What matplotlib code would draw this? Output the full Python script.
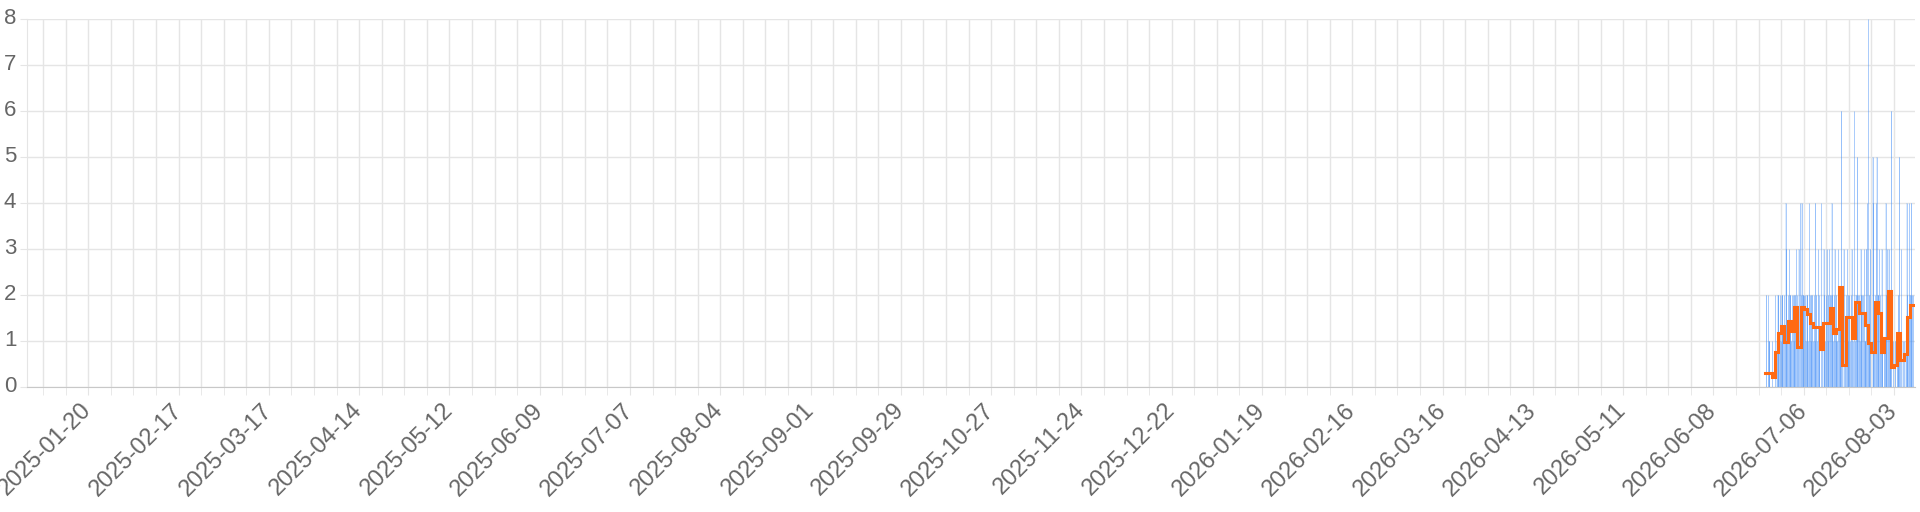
import datetime as dt
import matplotlib
matplotlib.use("Agg")
import matplotlib.pyplot as plt
import matplotlib.dates as mdates
from matplotlib.transforms import ScaledTranslation

# ---------------- data ----------------
series_start = dt.datetime(2026, 6, 24)
slots_per_day = 4  # bar values are given as 4 slots per day

bar_values = [
    0, 2, 0, 2,   1, 1, 0, 0,   1, 0, 0, 0,   2, 0, 1, 2,
    2, 1, 2, 1,   2, 2, 1, 2,   1, 4, 3, 1,   2, 3, 2, 2,
    1, 2, 2, 1,   2, 2, 3, 2,   1, 3, 0, 4,   2, 4, 2, 2,
    2, 2, 1, 2,   2, 1, 4, 2,   1, 2, 2, 1,   2, 1, 4, 2,
    1, 3, 2, 1,   0, 4, 1, 0,   3, 2, 1, 2,   3, 1, 2, 3,
    2, 2, 4, 2,   1, 2, 3, 1,   2, 1, 3, 2,   2, 2, 6, 2,
    0, 3, 0, 1,   2, 3, 1, 2,   2, 1, 2, 3,   1, 0, 6, 1,
    2, 2, 5, 2,   2, 1, 3, 2,   2, 2, 3, 1,   1, 3, 4, 8,
    1, 2, 3, 0,   0, 5, 4, 1,   2, 4, 5, 2,   2, 3, 2, 1,
    3, 1, 0, 1,   1, 4, 2, 3,   2, 3, 2, 2,   6, 0, 1, 0,
    0, 1, 0, 1,   1, 2, 5, 1,   3, 0, 1, 0,   1, 0, 1, 4,
    2, 1, 4, 2,   2, 4, 2, 2,
]

avg_values = [
    0.30, 0.30, 0.22, 0.76, 1.16, 1.32, 0.98, 1.43, 1.20, 1.74,
    0.86, 1.74, 1.68, 1.59, 1.39, 1.30, 1.30, 0.81, 1.38, 1.38,
    1.70, 1.17, 1.25, 2.16, 0.47, 1.52, 1.52, 1.05, 1.85, 1.60,
    1.60, 1.34, 0.94, 0.76, 1.85, 1.60, 0.76, 1.05, 2.09, 0.43,
    0.47, 1.17, 0.58, 0.72, 1.52, 1.78,
]

x_min = dt.datetime(2025, 1, 1)
x_max = dt.datetime(2026, 8, 9, 12)
first_grid_week = dt.datetime(2025, 1, 6)
first_label = dt.datetime(2025, 1, 20)
last_label = dt.datetime(2026, 8, 3)
y_ticks = [0, 1, 2, 3, 4, 5, 6, 7, 8]

# ---------------- figure ----------------
W, H = 1920, 512
fig = plt.figure(figsize=(W / 100, H / 100), dpi=100)
left, right, top, bottom = 27.0, 1915.0, 18.5, 386.7
ax = fig.add_axes([left / W, 1 - bottom / H, (right - left) / W, (bottom - top) / H])

start_num = mdates.date2num(series_start)
bar_x = [start_num + (i + 0.5) / slots_per_day for i in range(len(bar_values))]
# light translucent bar fill
ax.bar(bar_x, bar_values, width=0.75 / slots_per_day, color=(0.21, 0.55, 0.96, 0.16),
       linewidth=0, zorder=2)
# bar borders (thin solid blue strokes)
ax.vlines(bar_x, 0, bar_values, colors=[(0.25, 0.55, 0.97, 0.7)],
          linewidth=0.45, zorder=2.5)

avg_x = [start_num + i for i in range(len(avg_values) + 1)]
ax.step(avg_x, avg_values + [avg_values[-1]], where="post", color="#ff6a13",
        linewidth=2.2, zorder=3, solid_joinstyle="miter")

ax.set_xlim(mdates.date2num(x_min), mdates.date2num(x_max))
ax.set_ylim(0, 8)
ax.set_yticks(y_ticks)

major = []
d = first_label
while d <= last_label:
    major.append(mdates.date2num(d))
    d += dt.timedelta(days=28)
minor = []
d = first_grid_week
while d <= x_max:
    num = mdates.date2num(d)
    if num not in major:
        minor.append(num)
    d += dt.timedelta(days=7)
ax.set_xticks(major)
ax.set_xticks(minor, minor=True)
ax.set_xticklabels([mdates.num2date(m).strftime("%Y-%m-%d") for m in major])

grid_color = "#e5e5e5"
ax.set_axisbelow(True)
ax.grid(True, which="both", color=grid_color, linewidth=1.0)

for s in ("top", "right"):
    ax.spines[s].set_visible(False)
ax.spines["left"].set_color(grid_color)
ax.spines["bottom"].set_color("#c8c8c8")

font = ["Liberation Sans", "DejaVu Sans"]
ax.tick_params(axis="y", length=5.3, color=grid_color, labelcolor="#666666",
               labelsize=16, pad=2.4)
ax.tick_params(axis="x", which="both", length=5.8, color=grid_color,
               labelcolor="#666666", labelsize=17, pad=8.8)
lift = ScaledTranslation(0, 3 / 100, fig.dpi_scale_trans)
for lab in ax.get_yticklabels():
    lab.set_family(font)
    lab.set_transform(lab.get_transform() + lift)
for lab in ax.get_xticklabels():
    lab.set_family(font)
    lab.set_rotation(45)
    lab.set_ha("right")
    lab.set_va("center")
    lab.set_rotation_mode("anchor")

fig.savefig("out.png", dpi=100)
